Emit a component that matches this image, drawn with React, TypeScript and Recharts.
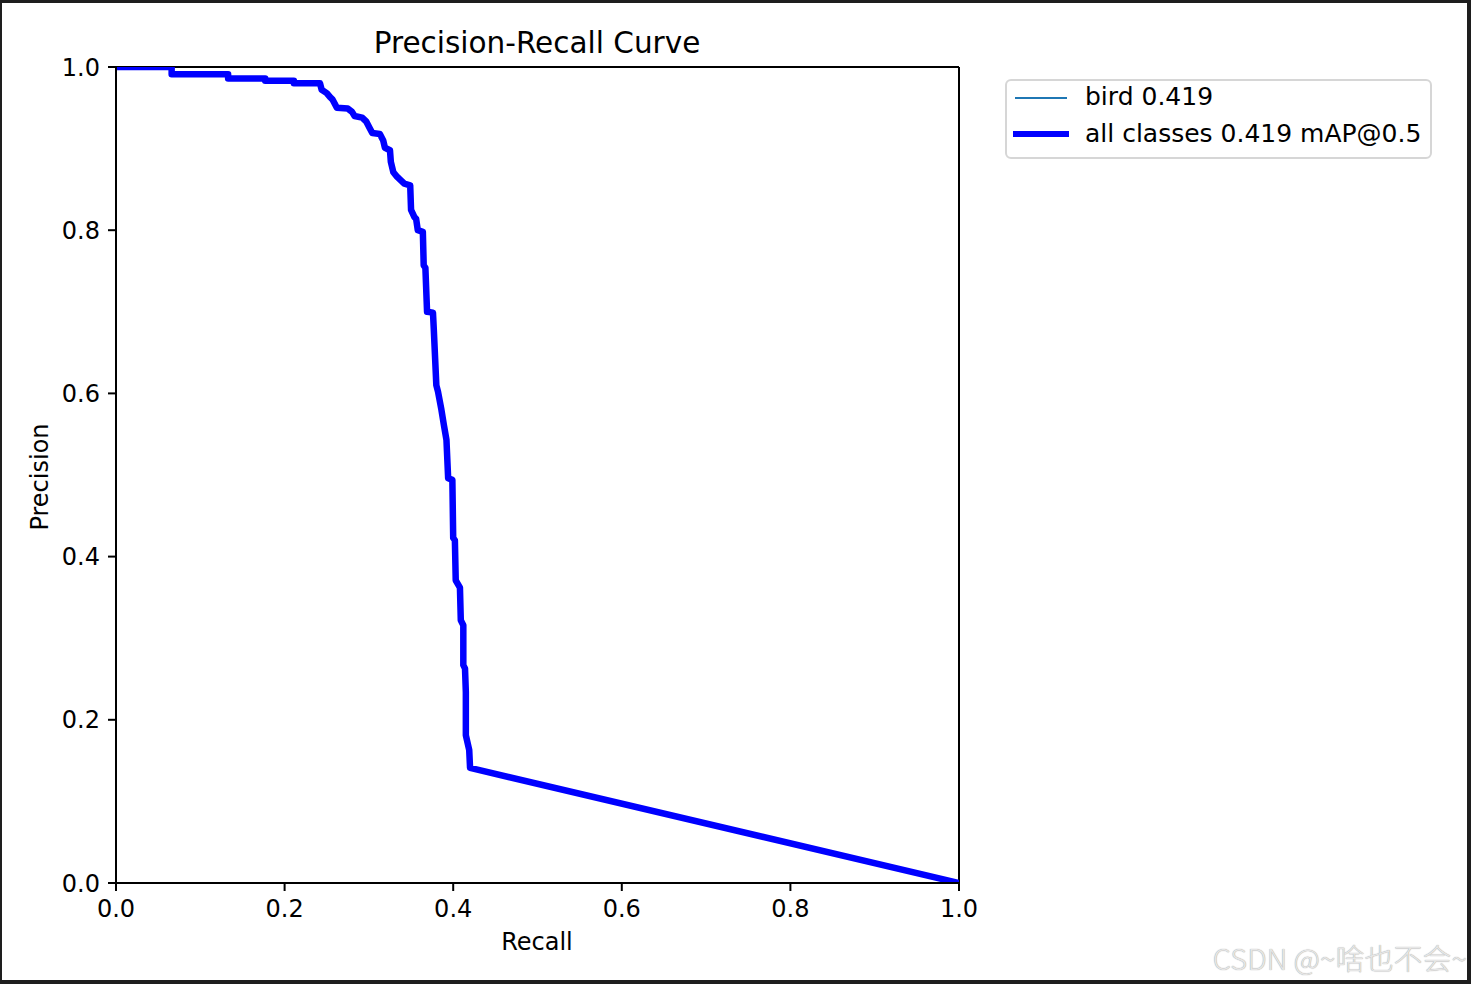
import { LineChart, Line, XAxis, YAxis, ReferenceLine } from 'recharts'

// values
const recall = [
  0, 0.066, 0.066, 0.133, 0.133, 0.177, 0.177, 0.211, 0.211, 0.242,
  0.244, 0.25, 0.254, 0.257, 0.262, 0.275, 0.28, 0.283, 0.292, 0.297,
  0.301, 0.304, 0.313, 0.317, 0.319, 0.325, 0.326, 0.329, 0.333, 0.337,
  0.342, 0.349, 0.35, 0.354, 0.356, 0.358, 0.364, 0.365, 0.367, 0.369,
  0.376, 0.377, 0.38, 0.382, 0.386, 0.389, 0.392, 0.394, 0.399, 0.4,
  0.402, 0.403, 0.408, 0.409, 0.412, 0.412, 0.414, 0.415, 0.415, 0.419,
  0.42, 1.0,
]
const precision = [
  1.0, 1.0, 0.991, 0.991, 0.986, 0.986, 0.983, 0.983, 0.98, 0.98,
  0.972, 0.968, 0.963, 0.96, 0.95, 0.949, 0.945, 0.94, 0.938, 0.933,
  0.925, 0.919, 0.918, 0.91, 0.901, 0.898, 0.884, 0.871, 0.866, 0.862,
  0.857, 0.855, 0.825, 0.816, 0.814, 0.8, 0.798, 0.757, 0.754, 0.7,
  0.699, 0.678, 0.61, 0.602, 0.58, 0.561, 0.543, 0.496, 0.494, 0.423,
  0.42, 0.371, 0.362, 0.322, 0.316, 0.267, 0.263, 0.234, 0.181, 0.163,
  0.141, 0.0,
]
const ticks = [0, 0.2, 0.4, 0.6, 0.8, 1.0]
const legendLabels = ['bird 0.419', 'all classes 0.419 mAP@0.5']

const data = recall.map((r, i) => ({ r, bird: precision[i], all: precision[i] }))

const font = '"DejaVu Sans", sans-serif'

function LegendBox() {
  return (
    <div style={{ position: 'absolute', left: 1005, top: 79, width: 427, height: 80, border: '2px solid #d6d6d6', borderRadius: 6, background: '#fff', boxSizing: 'border-box', fontFamily: font, fontSize: 25, color: '#000' }}>
      <svg width={70} height={77} style={{ position: 'absolute', left: 0, top: 0 }}>
        <line x1={8} x2={60} y1={17} y2={17} stroke="#1f77b4" strokeWidth={2} />
        <line x1={6} x2={62} y1={53} y2={53} stroke="#0000ff" strokeWidth={6} />
      </svg>
      <div style={{ position: 'absolute', left: 78, top: 1, whiteSpace: 'nowrap' }}>{legendLabels[0]}</div>
      <div style={{ position: 'absolute', left: 78, top: 38, whiteSpace: 'nowrap' }}>{legendLabels[1]}</div>
    </div>
  )
}

export default function App() {
  return (
    <div style={{ position: 'fixed', left: 0, top: 0, width: 1471, height: 984, background: '#fff' }}>
      <LineChart width={1471} height={984} data={data} margin={{ top: 67, right: 512, bottom: 0, left: 0 }}>
        <XAxis dataKey="r" type="number" domain={[0, 1]} ticks={ticks} allowDataOverflow height={101}
          tickFormatter={v => v.toFixed(1)} stroke="#000" strokeWidth={2} tickSize={8} tickMargin={9}
          tick={{ fill: '#000', fontSize: 24, fontFamily: font }} />
        <YAxis type="number" domain={[0, 1]} ticks={ticks} allowDataOverflow width={116}
          tickFormatter={v => v.toFixed(1)} stroke="#000" strokeWidth={2} tickSize={8} tickMargin={8}
          tick={{ fill: '#000', fontSize: 24, fontFamily: font }} />
        <ReferenceLine y={1} stroke="#000" strokeWidth={2} />
        <ReferenceLine x={1} stroke="#000" strokeWidth={2} />
        <Line dataKey="bird" stroke="#1f77b4" strokeWidth={2} dot={false} isAnimationActive={false} name={legendLabels[0]} />
        <Line dataKey="all" stroke="#0000ff" strokeWidth={6.5} strokeLinejoin="round" dot={false} isAnimationActive={false} name={legendLabels[1]} />
        <text x={537} y={53} textAnchor="middle" fontSize={29.5} fontFamily={font} fill="#000">Precision-Recall Curve</text>
        <text x={537} y={950} textAnchor="middle" fontSize={24} fontFamily={font} fill="#000">Recall</text>
        <text x={48} y={477} textAnchor="middle" fontSize={24} fontFamily={font} fill="#000" transform="rotate(-90 48 477)">Precision</text>
      </LineChart>
      <LegendBox />
      <div style={{ position: 'absolute', right: 4, top: 937, fontFamily: '"Noto Sans CJK SC", sans-serif', fontSize: 29, fontWeight: 300, color: '#e6e6e6', textShadow: '0 0 1px #8a8a8a', whiteSpace: 'nowrap', lineHeight: '40px' }}>
        CSDN @~啥也不会~
      </div>
      <div style={{ position: 'absolute', left: 0, top: 0, width: 1471, height: 984, boxSizing: 'border-box', borderStyle: 'solid', borderColor: '#1e1e1e', borderWidth: '3px 4px 4px 2px', pointerEvents: 'none' }} />
    </div>
  )
}
